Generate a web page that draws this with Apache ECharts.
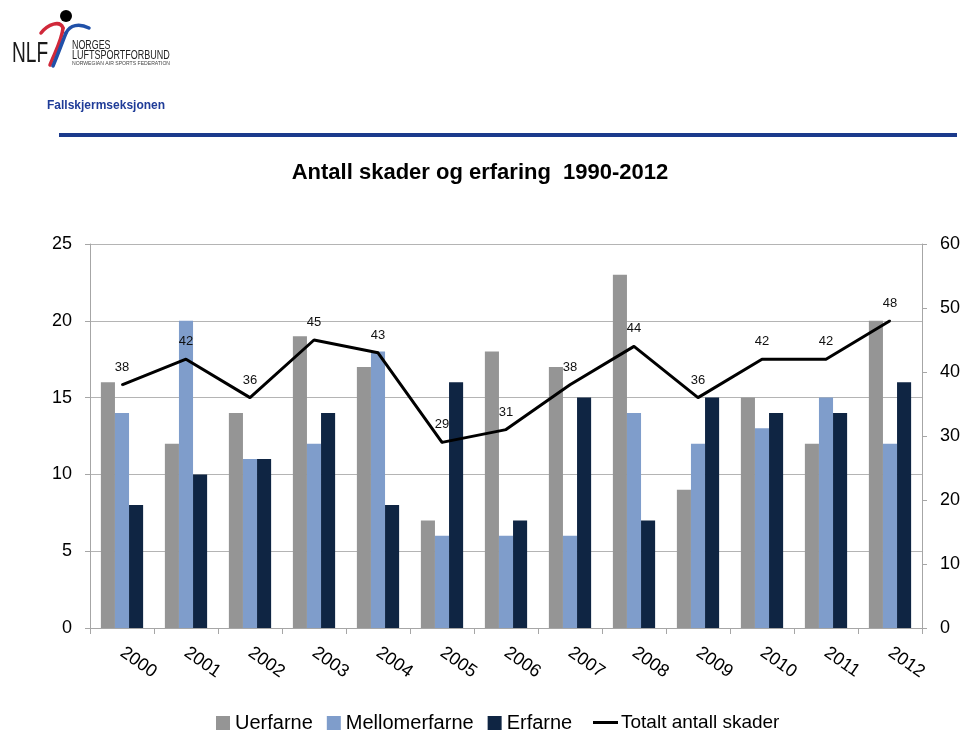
<!DOCTYPE html>
<html>
<head>
<meta charset="utf-8">
<script src="https://cdn.jsdelivr.net/npm/echarts@6/dist/echarts.min.js"></script>
<style>
html,body{margin:0;padding:0;background:#fff;}
#c{width:960px;height:732px;}
</style>
</head>
<body>
<div id="c"></div>
<script>
const years = ['2000','2001','2002','2003','2004','2005','2006','2007','2008','2009','2010','2011','2012'];
const uerfarne = [16,12,14,19,17,7,18,17,23,9,15,12,20];
const mellomerfarne = [14,20,11,12,18,6,6,6,14,12,13,15,12];
const erfarne = [8,10,11,14,8,16,7,15,7,15,14,14,16];
const totalt = [38,42,36,45,43,29,31,38,44,36,42,42,48];
const leftTicks = [0,25,5];
const rightTicks = [0,60,10];

const F = 'Liberation Sans, Arial, sans-serif';
const chart = echarts.init(document.getElementById('c'), null, {renderer:'canvas'});
const barBase = {type:'bar', barGap:'0%', barCategoryGap:'34%', yAxisIndex:0};
function bz(x1,y1,c1x,c1y,c2x,c2y,x2,y2,col){
  return {type:'bezierCurve', shape:{x1:x1,y1:y1,cpx1:c1x,cpy1:c1y,cpx2:c2x,cpy2:c2y,x2:x2,y2:y2},
    style:{stroke:col, lineWidth:3.5, fill:null, lineCap:'round'}};
}
chart.setOption({
  animation:false,
  backgroundColor:'#fff',
  title:{text:'Antall skader og erfaring  1990-2012', left:'center', top:157,
    textStyle:{fontFamily:F, fontSize:22, fontWeight:'bold', color:'#000'}},
  graphic:[
    {type:'text', x:12, y:39, scaleX:0.66, style:{text:'NLF', font:'29px "Liberation Sans", Arial, sans-serif', fill:'#1a1a1a', textVerticalAlign:'top'}},
    bz(41,33,48,24,60,20,63,28,'#D0283A'),
    bz(63,28,62,40,55,52,50,65,'#D0283A'),
    bz(89,28,79,23,70,25,66,33,'#2050A8'),
    bz(66,33,62,43,58,54,53,66,'#2050A8'),
    {type:'circle', shape:{cx:66,cy:16,r:6}, style:{fill:'#000'}},
    {type:'text', x:72, y:40, scaleX:0.74, style:{text:'NORGES', font:'12px "Liberation Sans", Arial, sans-serif', fill:'#222', textVerticalAlign:'top'}},
    {type:'text', x:72, y:50, scaleX:0.75, style:{text:'LUFTSPORTFORBUND', font:'12px "Liberation Sans", Arial, sans-serif', fill:'#222', textVerticalAlign:'top'}},
    {type:'text', x:72, y:60, scaleX:0.85, style:{text:'NORWEGIAN AIR SPORTS FEDERATION', font:'6px "Liberation Sans", Arial, sans-serif', fill:'#444', textVerticalAlign:'top'}},
    {type:'text', x:47, y:100, style:{text:'Fallskjermseksjonen', font:'bold 12px "Liberation Sans", Arial, sans-serif', fill:'#1F3C98', textVerticalAlign:'top'}},
    {type:'rect', shape:{x:59, y:133, width:898, height:4}, style:{fill:'#1B3A8C'}}
  ],
  legend:[
    {top:713, left:216, padding:0, itemWidth:14, itemHeight:14, itemGap:14,
      textStyle:{fontFamily:F, fontSize:20, color:'#000'},
      data:[{name:'Uerfarne', icon:'rect'},{name:'Mellomerfarne', icon:'rect'},{name:'Erfarne', icon:'rect'}]},
    {top:713, left:593, padding:0, itemWidth:25, itemHeight:3,
      textStyle:{fontFamily:F, fontSize:19, color:'#000', padding:[0,0,0,-2]},
      data:[{name:'Totalt antall skader', icon:'rect', itemStyle:{color:'#000'}}]}
  ],
  grid:{left:90, right:38, top:244, bottom:104, outerBoundsMode:'none', containLabel:false},
  xAxis:{type:'category', data:years,
    axisLine:{lineStyle:{color:'#A6A6A6'}},
    axisTick:{show:true, length:6, lineStyle:{color:'#A6A6A6'}},
    axisLabel:{rotate:-35, fontFamily:F, fontSize:18, color:'#000', margin:23}},
  yAxis:[
    {type:'value', min:leftTicks[0], max:leftTicks[1], interval:leftTicks[2],
      axisLine:{show:true, lineStyle:{color:'#A6A6A6'}},
      axisTick:{show:true, length:5, lineStyle:{color:'#A6A6A6'}},
      splitLine:{lineStyle:{color:'#B4B4B4'}},
      axisLabel:{fontFamily:F, fontSize:18, color:'#000', margin:18}},
    {type:'value', min:rightTicks[0], max:rightTicks[1], interval:rightTicks[2],
      axisLine:{show:true, lineStyle:{color:'#A6A6A6'}},
      axisTick:{show:true, length:5, lineStyle:{color:'#A6A6A6'}},
      splitLine:{show:false},
      axisLabel:{fontFamily:F, fontSize:18, color:'#000', margin:18}}
  ],
  series:[
    Object.assign({name:'Uerfarne', data:uerfarne, itemStyle:{color:'#959595'}}, barBase),
    Object.assign({name:'Mellomerfarne', data:mellomerfarne, itemStyle:{color:'#7F9DCB'}}, barBase),
    Object.assign({name:'Erfarne', data:erfarne, itemStyle:{color:'#0F2543'}}, barBase),
    {name:'Totalt antall skader', type:'line', yAxisIndex:1, data:totalt, symbol:'circle', symbolSize:2,
      lineStyle:{color:'#000', width:3}, itemStyle:{color:'#000'},
      label:{show:true, position:'top', distance:10, fontFamily:F, fontSize:13, color:'#111'}}
  ]
});
</script>
</body>
</html>
